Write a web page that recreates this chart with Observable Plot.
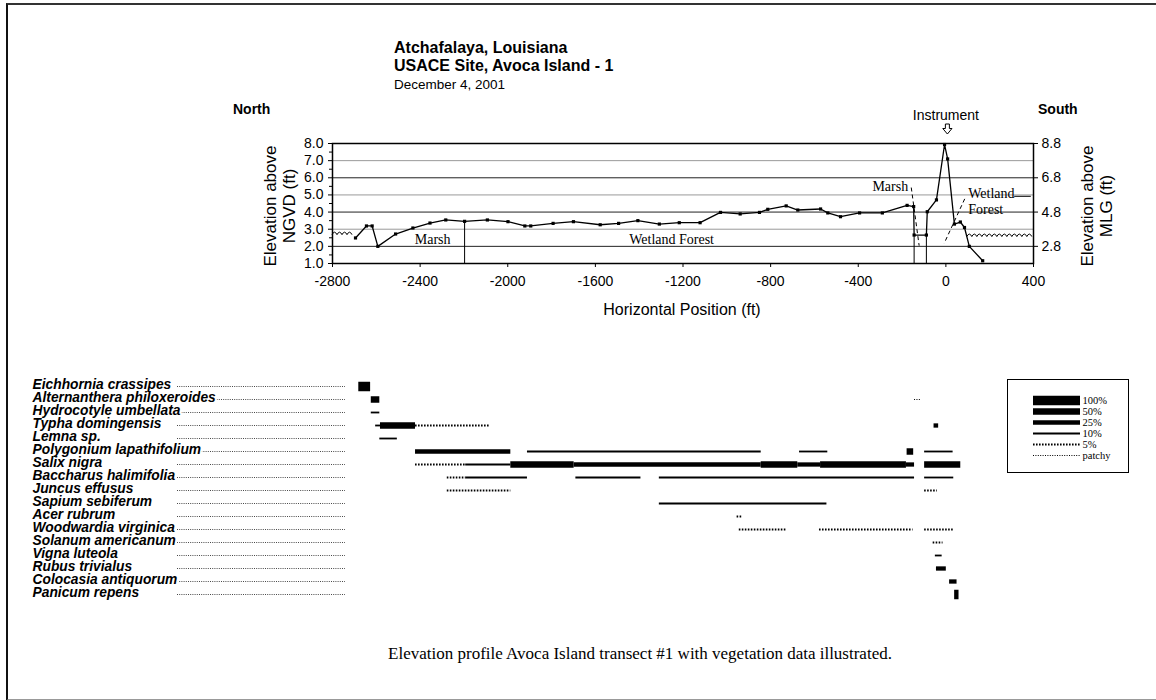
<!DOCTYPE html>
<html><head><meta charset="utf-8">
<script src="https://cdn.jsdelivr.net/npm/d3@7"></script>
<script src="https://cdn.jsdelivr.net/npm/@observablehq/plot@0.6"></script>
<style>
body{margin:0;background:#fff}
#page{position:relative;width:1156px;height:700px;overflow:hidden;background:#fff;font-family:"Liberation Sans",Arial,sans-serif;color:#000}
.abs{position:absolute;white-space:nowrap;line-height:1}
.lc{transform:translate(0,-50%)}
.cc{transform:translate(-50%,-50%)}
.rot{transform:translate(-50%,-50%) rotate(-90deg)}
svg{overflow:visible;display:block}
</style></head><body>
<div id="page">
  <div class="abs" style="left:6px;top:3px;width:1170px;height:694px;border-left:2px solid #111;border-top:2px solid #333;border-bottom:2px solid #999"></div>
  <div id="topChart" class="abs" style="left:0;top:0"></div>
  <div id="veg" class="abs" style="left:0;top:360px"></div>
  <div id="legend" class="abs" style="left:1007px;top:379px;border:1.5px solid #000;line-height:0"></div>

  <div class="abs lc" style="left:394px;top:48px;font-weight:bold;font-size:16px">Atchafalaya, Louisiana</div>
  <div class="abs lc" style="left:394px;top:66px;font-weight:bold;font-size:16px">USACE Site, Avoca Island - 1</div>
  <div class="abs lc" style="left:394px;top:85px;font-size:13.5px">December 4, 2001</div>
  <div class="abs lc" style="left:233px;top:109px;font-weight:bold;font-size:14px">North</div>
  <div class="abs lc" style="left:1038px;top:109px;font-weight:bold;font-size:14px">South</div>

  <div class="abs rot" style="left:270px;top:206px;font-size:17px">Elevation above</div>
  <div class="abs rot" style="left:289px;top:206px;font-size:17px">NGVD (ft)</div>
  <div class="abs rot" style="left:1087px;top:206px;font-size:17px">Elevation above</div>
  <div class="abs rot" style="left:1106px;top:206px;font-size:17px">MLG (ft)</div>
  <div class="abs cc" style="left:682px;top:310px;font-size:16px">Horizontal Position (ft)</div>

  <div class="abs cc" style="left:640px;top:653px;font-family:'Liberation Serif','Times New Roman',serif;font-size:17px">Elevation profile Avoca Island transect #1 with vegetation data illustrated.</div>
</div>
<script>
// ---------------- data: elevation profile ----------------
const posFt = [-2695,-2645,-2619,-2593,-2512,-2433,-2355,-2283,-2197,-2093,-1999,-1922,-1895,-1793,-1700,-1578,-1494,-1406,-1308,-1217,-1122,-1029,-939,-851,-813,-729,-676,-572,-539,-481,-394,-290,-177,-147,-145,-89,-85,-43,-6,8,39,66,85,107,168];
const elevNgvd = [2.49,3.19,3.19,2.0,2.72,3.07,3.36,3.54,3.46,3.54,3.44,3.19,3.19,3.34,3.44,3.26,3.34,3.5,3.3,3.38,3.38,3.98,3.89,3.98,4.16,4.36,4.12,4.18,3.95,3.73,3.95,3.95,4.39,4.32,2.66,2.66,4.02,4.71,7.94,7.1,3.3,3.42,3.1,2.0,1.16];

const xTicks = [-2800,-2400,-2000,-1600,-1200,-800,-400,0,400];
const ngvdTicks = [1,2,3,4,5,6,7,8];
const ngvdMinor = [1.5,2.5,3.5,4.5,5.5,6.5,7.5];
const mlgTicks = [2,4,6,8];
const mlgLabels = ["2.8","4.8","6.8","8.8"];

// water surface (left and right ends of transect)
const waterFrom = [-2800, 98];
const waterTo = [-2695, 400];
const waterLevel = [2.74, 2.63];

// zone boundaries
const boundaryX = [-2197, -145, -89];
const boundaryTop = [3.46, 2.66, 2.66];

// dashed leaders
const leadX1 = [-158, 86];
const leadY1 = [5.43, 4.77];
const leadX2 = [-122, -8];
const leadY2 = [2.04, 2.17];
// short solid leader after "Wetland"
const tickLeadX1 = [314];
const tickLeadX2 = [390];
const tickLeadY = [4.92];

// zone labels
const zoneText = ["Marsh", "Wetland Forest", "Marsh", "Wetland", "Forest"];
const zoneX = [-2343, -1252, -172, 102, 102];
const zoneY = [2.39, 2.37, 5.49, 5.08, 4.15];
const zoneAnchor = ["middle", "middle", "end", "start", "start"];

const instrumentX = [0];

// ---------------- data: vegetation ----------------
const species = ["Eichhornia crassipes","Alternanthera philoxeroides","Hydrocotyle umbellata","Typha domingensis","Lemna sp.","Polygonium lapathifolium","Salix nigra","Baccharus halimifolia","Juncus effusus","Sapium sebiferum","Acer rubrum","Woodwardia virginica","Solanum americanum","Vigna luteola","Rubus trivialus","Colocasia antiquorum","Panicum repens"];
const coverClasses = ["100%","50%","25%","10%","5%","patchy"];

const segSpecies = [0, 1,1, 2, 3,3,3,3, 4, 5,5,5,5,5, 6,6,6,6,6,6,6,6,6, 7,7,7,7,7, 8,8, 9, 10, 11,11,11, 12, 13, 14, 15, 16];
const segFrom = [-2680, -2623,-143, -2623, -2603,-2581,-2421,-54, -2584, -2421,-1910,-668,-177,-97, -2421,-2192,-1986,-1697,-843,-676,-572,-180,-97, -2276,-2192,-1689,-1308,-97, -2276,-97, -1308, -953, -943,-577,-97, -58, -48, -43, 17, 40];
const segTo = [-2626, -2584,-112, -2584, -2581,-2421,-2085,-33, -2504, -1986,-843,-539,-147,33, -2192,-1986,-1697,-843,-676,-572,-180,-143,68, -2192,-1910,-1392,-143,36, -1986,-39, -543, -932, -725,-150,37, -13, -17, 2, 51, 60];
const segCover = ["100%", "50%","patchy", "10%", "10%","50%","5%","25%", "10%", "25%","10%","10%","50%","10%", "5%","10%","50%","25%","50%","25%","50%","25%","50%", "5%","10%","10%","10%","10%", "5%","5%", "10%", "5%", "5%","5%","5%", "5%", "10%", "25%", "25%", "100%"];

// ---------------- styles (not data) ----------------
const coverWidth = {"100%": 9.5, "50%": 6.5, "25%": 4.3, "10%": 1.8, "5%": 1.8, "patchy": 1.1};
const coverDash = {"100%": null, "50%": null, "25%": null, "10%": null, "5%": "1.6,1.4", "patchy": "1,1.4"};
const serif = "'Liberation Serif','Times New Roman',serif";
const sans = "'Liberation Sans',Arial,sans-serif";

// ---------------- top chart ----------------
const pIdx = d3.range(posFt.length);
const topPlot = Plot.plot({
  width: 1156, height: 330,
  marginLeft: 332, marginRight: 123, marginTop: 143, marginBottom: 67,
  style: {fontFamily: sans, fontSize: "14px", background: "transparent", color: "#000"},
  x: {domain: [-2800, 400]},
  y: {domain: [1, 8]},
  marks: [
    Plot.gridY([2,4,6], {stroke: "#222", strokeOpacity: 1, strokeWidth: 1}),
    Plot.gridY([3,5,7], {stroke: "#999", strokeOpacity: 1, strokeWidth: 1}),
    Plot.axisX({ticks: xTicks, tickSize: 4, tickPadding: 9, tickFormat: d => String(d), label: null}),
    Plot.axisY({ticks: ngvdTicks, tickSize: 4, tickPadding: 5, tickFormat: d => d.toFixed(1), label: null}),
    Plot.axisY({ticks: ngvdMinor, tickSize: 3, tickFormat: () => "", label: null}),
    Plot.axisY({anchor: "right", ticks: mlgTicks, tickSize: 4, tickPadding: 4, tickFormat: d => mlgLabels[mlgTicks.indexOf(d)], label: null}),
    Plot.frame({stroke: "#000", strokeWidth: 1.5}),
    Plot.ruleX(boundaryX, {x: d => d, y1: 1, y2: (d, i) => boundaryTop[i], stroke: "#000", strokeWidth: 1}),
    Plot.link(leadX1, {x1: d => d, y1: (d, i) => leadY1[i], x2: (d, i) => leadX2[i], y2: (d, i) => leadY2[i], stroke: "#000", strokeWidth: 1, strokeDasharray: "4,3"}),
    Plot.ruleY(tickLeadY, {y: d => d, x1: (d, i) => tickLeadX1[i], x2: (d, i) => tickLeadX2[i], stroke: "#000", strokeWidth: 1}),
    Plot.line(pIdx, {x: i => posFt[i], y: i => elevNgvd[i], stroke: "#000", strokeWidth: 1.3}),
    Plot.dot(pIdx, {x: i => posFt[i], y: i => elevNgvd[i], symbol: "square", r: 1.8, fill: "#000"}),
    ...["start","middle","end"].map(a => Plot.text(d3.range(zoneText.length).filter(i => zoneAnchor[i] === a), {
      x: i => zoneX[i], y: i => zoneY[i], text: i => zoneText[i], textAnchor: a,
      fontFamily: serif, fontSize: 14, fill: "#000"})),
    Plot.text(instrumentX, {x: d => d, frameAnchor: "top", dy: -33, text: () => "Instrument", fontSize: 14, fill: "#000"})
  ]
});
document.getElementById("topChart").appendChild(topPlot);

(function () {
  const sx = topPlot.scale("x"), sy = topPlot.scale("y");
  const svg = d3.select(topPlot);
  // water-surface symbol (scalloped line) drawn through the plot's scales
  const g = svg.append("g").attr("fill", "none").attr("stroke", "#000").attr("stroke-width", 1);
  waterFrom.forEach((f, i) => {
    const x1 = sx.apply(f), x2 = sx.apply(waterTo[i]), y0 = sy.apply(waterLevel[i]) + 1.5;
    const n = Math.floor((x2 - x1) / 5);
    let d = `M${x1},${y0}`;
    for (let k = 0; k < n; k++) d += "q2.5,-5 5,0";
    g.append("path").attr("d", d);
  });
  // hollow down-arrow under "Instrument"
  const cx = sx.apply(instrumentX[0]) + 2, ty = sy.apply(8) - 19;
  svg.append("path")
    .attr("d", `M${cx - 2},${ty} h4 v4.5 h2.6 l-4.6,5.5 l-4.6,-5.5 h2.6 z`)
    .attr("fill", "none").attr("stroke", "#000").attr("stroke-width", 1);
})();

// ---------------- vegetation chart ----------------
const sIdx = d3.range(segFrom.length);
const labelOpts = {y: d => d, text: d => d, frameAnchor: "left", dx: -300, dy: -2, textAnchor: "start",
  fontWeight: "bold", fontStyle: "italic", fontSize: 13.8};
const veg = Plot.plot({
  width: 1156, height: 260,
  marginLeft: 332, marginRight: 123, marginTop: 21, marginBottom: 21,
  style: {fontFamily: sans, background: "transparent", color: "#000"},
  x: {domain: [-2800, 400], axis: null},
  y: {type: "point", domain: species, padding: 0, axis: null},
  marks: [
    ...coverClasses.map(c => Plot.ruleY(sIdx.filter(i => segCover[i] === c), {
      y: i => species[segSpecies[i]], x1: i => segFrom[i], x2: i => segTo[i],
      stroke: "#000", strokeWidth: coverWidth[c], strokeDasharray: coverDash[c]})),
    Plot.text(species, {...labelOpts, fill: "#fff", stroke: "#fff", strokeWidth: 4}),
    Plot.text(species, {...labelOpts, fill: "#000"})
  ]
});
document.getElementById("veg").appendChild(veg);
// dotted leaders from labels to the plot area
(function () {
  const sy = veg.scale("y");
  const g = d3.select(veg).insert("g", ":first-child").attr("stroke", "#333").attr("stroke-width", 0.9).attr("stroke-dasharray", "1,1.2");
  species.forEach(s => {
    const y = sy.apply(s) + 0.5;
    g.append("line").attr("x1", 177).attr("x2", 345).attr("y1", y).attr("y2", y);
  });
})();

// ---------------- legend ----------------
const legend = Plot.plot({
  width: 120, height: 92,
  marginLeft: 25, marginRight: 48, marginTop: 18.7, marginBottom: 16,
  style: {fontFamily: serif, background: "transparent", color: "#000"},
  x: {domain: [0, 1], axis: null},
  y: {type: "point", domain: coverClasses, padding: 0, axis: null},
  marks: [
    ...coverClasses.map(c => Plot.ruleY([c], {y: d => d, x1: 0, x2: 1, stroke: "#000", strokeWidth: coverWidth[c], strokeDasharray: coverDash[c]})),
    Plot.text(coverClasses, {y: d => d, text: d => d, frameAnchor: "right", dx: 2, textAnchor: "start", fontFamily: serif, fontSize: 10.5, fill: "#000"})
  ]
});
document.getElementById("legend").appendChild(legend);
</script>
</body></html>
